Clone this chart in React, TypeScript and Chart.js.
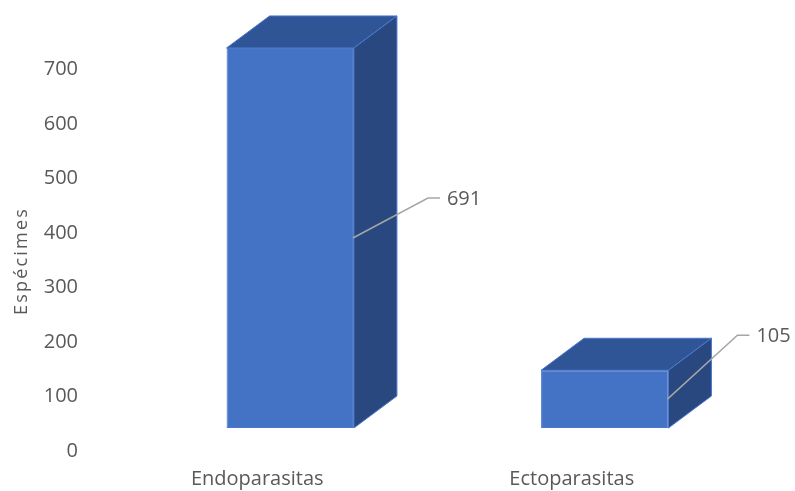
import { useEffect, useRef } from "react";
import { Chart, registerables } from "chart.js";

Chart.register(...registerables);

const categories = ["Endoparasitas", "Ectoparasitas"];
const specimens = [691, 105];
const axisTitle = "Espécimes";

const FRONT = "#4472C4";
const TOP = "#2F5597";
const SIDE = "#294880";
const EDGE = "#4A78CE";
const TEXT = "#595959";
const LEADER = "#A6A6A6";
const FONT = "'Open Sans', 'Liberation Sans', sans-serif";

// Extrusion of each column towards the back right.
const depth = { x: 43, y: 32 };
// Elbow of each value callout, relative to the middle of the column's right edge.
const callouts = [
  { dx: 75, dy: -40 },
  { dx: 70, dy: -64 },
];

const polygon = (ctx: CanvasRenderingContext2D, pts: number[][], fill: string) => {
  ctx.beginPath();
  pts.forEach(([x, y], i) => (i ? ctx.lineTo(x, y) : ctx.moveTo(x, y)));
  ctx.closePath();
  ctx.fillStyle = fill;
  ctx.fill();
  ctx.strokeStyle = EDGE;
  ctx.lineWidth = 1;
  ctx.stroke();
};

const extrusion = {
  id: "extrusion",
  beforeDatasetsDraw(chart: Chart) {
    const { ctx } = chart;
    ctx.save();
    chart.getDatasetMeta(0).data.forEach((bar: any) => {
      const { x, y, base, width } = bar.getProps(["x", "y", "base", "width"], true);
      const l = x - width / 2;
      const r = x + width / 2;
      polygon(ctx, [[l, y], [l + depth.x, y - depth.y], [r + depth.x, y - depth.y], [r, y]], TOP);
      polygon(ctx, [[r, y], [r + depth.x, y - depth.y], [r + depth.x, base - depth.y], [r, base]], SIDE);
    });
    ctx.restore();
  },
  afterDatasetsDraw(chart: Chart) {
    const { ctx } = chart;
    ctx.save();
    chart.getDatasetMeta(0).data.forEach((bar: any, i: number) => {
      const { x, y, base, width } = bar.getProps(["x", "y", "base", "width"], true);
      const sx = x + width / 2 - 1;
      const sy = (y + base) / 2;
      const ex = sx + callouts[i].dx;
      const ey = sy + callouts[i].dy;
      ctx.beginPath();
      ctx.moveTo(sx, sy);
      ctx.lineTo(ex, ey);
      ctx.lineTo(ex + 12, ey);
      ctx.strokeStyle = LEADER;
      ctx.lineWidth = 1.5;
      ctx.stroke();
      ctx.fillStyle = TEXT;
      ctx.font = `20px ${FONT}`;
      ctx.textAlign = "left";
      ctx.textBaseline = "middle";
      ctx.fillText(String(specimens[i]), ex + 19, ey + 1);
    });
    ctx.restore();
  },
  // The spaced-out, rotated title of the value axis.
  afterDraw(chart: Chart) {
    const { ctx } = chart;
    ctx.save();
    ctx.translate(22, 261);
    ctx.rotate(-Math.PI / 2);
    (ctx as any).letterSpacing = "2.2px";
    ctx.fillStyle = TEXT;
    ctx.font = `18px ${FONT}`;
    ctx.textAlign = "center";
    ctx.textBaseline = "middle";
    ctx.fillText(axisTitle, 0, 0);
    ctx.restore();
  },
};

export default function App() {
  const ref = useRef<HTMLCanvasElement>(null);

  useEffect(() => {
    document.body.style.margin = "0";
    const chart = new Chart(ref.current!, {
      type: "bar",
      data: {
        labels: categories,
        datasets: [
          {
            data: specimens,
            yAxisID: "depthY",
            backgroundColor: FRONT,
            borderColor: EDGE,
            borderWidth: 1,
            borderSkipped: false,
            categoryPercentage: 1,
            barPercentage: 0.405,
          },
        ],
      },
      plugins: [extrusion],
      options: {
        animation: false,
        responsive: false,
        layout: { padding: { top: 15, right: 33, left: 10, bottom: 0 } },
        plugins: { legend: { display: false }, tooltip: { enabled: false } },
        scales: {
          x: {
            grid: { display: false },
            border: { display: false },
            ticks: {
              color: TEXT,
              font: { family: FONT, size: 20 },
              labelOffset: -33,
              padding: 8,
              maxRotation: 0,
            },
            afterFit: (s: any) => {
              s.height = 40;
              s.paddingLeft = 0;
              s.paddingRight = 0;
            },
          },
          // Printed value axis.
          y: {
            min: 0,
            max: 800,
            grid: { display: false },
            border: { display: false },
            ticks: {
              stepSize: 100,
              color: TEXT,
              font: { family: FONT, size: 20 },
              padding: 47,
              callback: (v: number) => (v === 800 ? "" : String(v)),
            },
            afterFit: (s: any) => {
              s.width = 123;
              s.paddingTop = 0;
              s.paddingBottom = 0;
            },
          },
          // Scale of the columns' front faces, raised above the printed axis.
          depthY: {
            display: false,
            min: -41.8,
            max: 750.9,
          },
        },
      },
    } as any);
    return () => chart.destroy();
  }, []);

  return <canvas ref={ref} width={795} height={491} style={{ display: "block" }} />;
}
